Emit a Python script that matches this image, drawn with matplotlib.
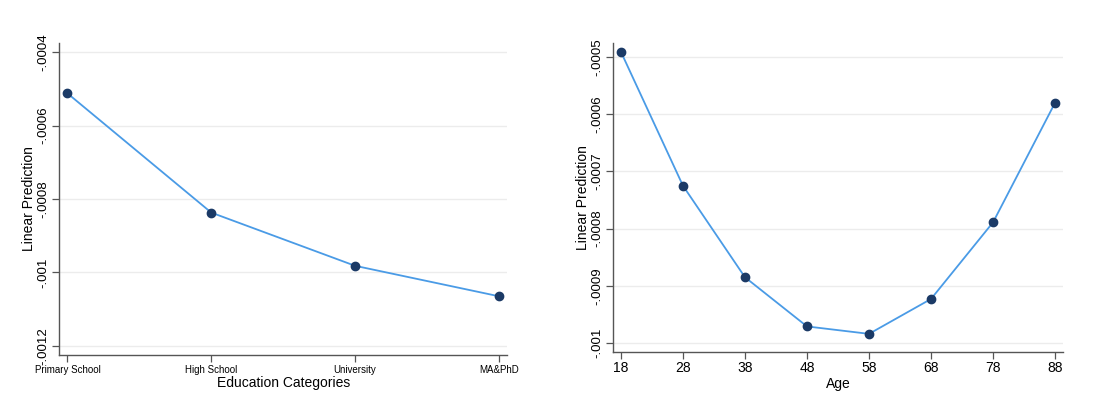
import matplotlib
matplotlib.use("Agg")
import matplotlib.pyplot as plt
from matplotlib.ticker import FuncFormatter

plt.rcParams['font.family'] = ['Liberation Sans', 'DejaVu Sans']

edu_categories = ["Primary School", "High School", "University", "MA&PhD"]
edu_values = [-0.000512, -0.000837, -0.000982, -0.001065]
edu_yticks = [-0.0004, -0.0006, -0.0008, -0.0010, -0.0012]

ages = [18, 28, 38, 48, 58, 68, 78, 88]
age_values = [-0.000491, -0.000725, -0.000885, -0.000971, -0.000984, -0.000923, -0.000789, -0.000580]
age_yticks = [-0.0005, -0.0006, -0.0007, -0.0008, -0.0009, -0.0010]

LINE = "#4a9be6"
MARK = "#1b3a66"
SPINE = "#555555"
GRID = "#ececec"


def stata_fmt(v, pos):
    s = ("%.4f" % v).rstrip("0")
    s = s.replace("-0.", "-.").replace("0.", ".")
    return s


def style(ax):
    for side in ("top", "right"):
        ax.spines[side].set_visible(False)
    for side in ("left", "bottom"):
        ax.spines[side].set_color(SPINE)
        ax.spines[side].set_linewidth(1.0)
    ax.tick_params(axis="both", direction="out", length=5, width=0.9, color=SPINE, pad=2)
    ax.yaxis.grid(True, color=GRID, linewidth=1.0)
    ax.set_axisbelow(True)
    ax.yaxis.set_major_formatter(FuncFormatter(stata_fmt))
    for lab in ax.get_yticklabels():
        lab.set_rotation(90)
        lab.set_va("center")
    ax.set_ylabel("Linear Prediction", fontsize=10, labelpad=1)


fig = plt.figure(figsize=(11.07, 4.0), dpi=100)

ax1 = fig.add_axes([0.0536, 0.1125, 0.4044, 0.78])
xpos = list(range(1, len(edu_categories) + 1))
ax1.plot(xpos, edu_values, color=LINE, linewidth=1.3, marker="o", markersize=6,
         markerfacecolor=MARK, markeredgecolor=MARK, zorder=3)
ax1.set_xlim(0.944, 4.056)
ax1.set_ylim(-0.001225, -0.000375)
ax1.set_xticks(xpos)
ax1.set_xticklabels(edu_categories, fontsize=7)
ax1.set_yticks(edu_yticks)
ax1.tick_params(axis="y", labelsize=9.5)
style(ax1)
ax1.set_xlabel("Education Categories", fontsize=10, labelpad=1)

ax2 = fig.add_axes([0.554, 0.121, 0.406, 0.771])
ax2.plot(ages, age_values, color=LINE, linewidth=1.3, marker="o", markersize=6,
         markerfacecolor=MARK, markeredgecolor=MARK, zorder=3)
ax2.set_xlim(16.77, 89.23)
ax2.set_ylim(-0.001015, -0.000476)
ax2.set_xticks(ages)
ax2.set_xticklabels([str(a) for a in ages], fontsize=10)
ax2.set_yticks(age_yticks)
ax2.tick_params(axis="y", labelsize=9.5)
style(ax2)
ax2.set_xlabel("Age", fontsize=10, labelpad=1)

fig.savefig("out.png", dpi=100, facecolor="white")
